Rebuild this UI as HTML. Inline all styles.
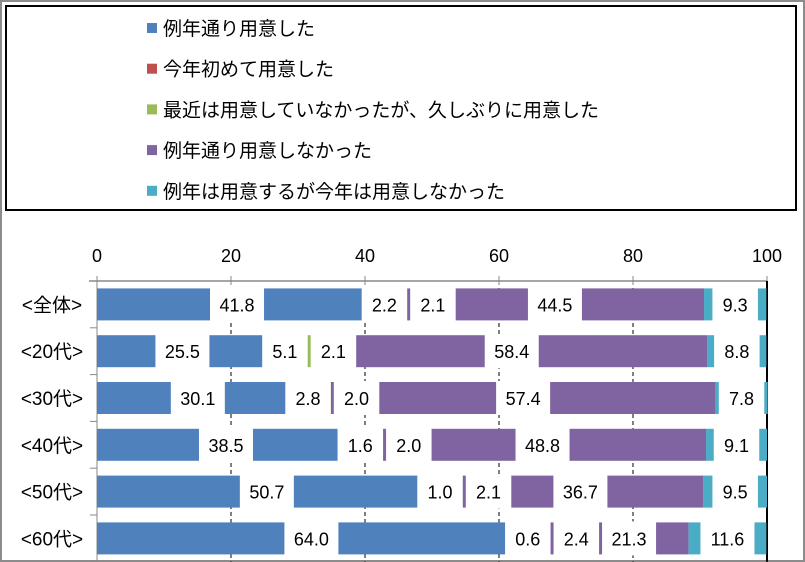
<!DOCTYPE html>
<html><head><meta charset="utf-8"><style>
html,body{margin:0;padding:0;background:#fff;}
svg{display:block;font-family:"Liberation Sans","Noto Sans CJK JP",sans-serif;}
</style></head><body>
<svg id="chart" width="805" height="562" viewBox="0 0 805 562">
<rect x="1" y="1" width="803" height="560" fill="#fff" stroke="#8c8c8c" stroke-width="2"/>
<g id="legend">
<rect x="6" y="6" width="790" height="204" fill="#fff" stroke="#000" stroke-width="2"/>
</g>
<g id="plot"></g>
</svg>
<script>
const categories = ["<全体>", "<20代>", "<30代>", "<40代>", "<50代>", "<60代>"];
const seriesNames = ["例年通り用意した", "今年初めて用意した", "最近は用意していなかったが、久しぶりに用意した", "例年通り用意しなかった", "例年は用意するが今年は用意しなかった"];
const s1 = [41.8, 25.5, 30.1, 38.5, 50.7, 64.0];
const s2 = [2.2, 5.1, 2.8, 1.6, 1.0, 0.6];
const s3 = [2.1, 2.1, 2.0, 2.0, 2.1, 2.4];
const s4 = [44.5, 58.4, 57.4, 48.8, 36.7, 21.3];
const s5 = [9.3, 8.8, 7.8, 9.1, 9.5, 11.6];
const ticks = [0, 20, 40, 60, 80, 100];

const colors = ["#4f81bd", "#c0504d", "#9bbb59", "#8064a2", "#4bacc6"];
const series = [s1, s2, s3, s4, s5];
const NS = "http://www.w3.org/2000/svg";
const x0 = 97, x1 = 767;
const xs = v => x0 + (x1 - x0) * v / 100;
const rowTop = 281, rowH = 46.8, barH = 32;
const yc = i => rowTop + rowH * (i + 0.5);
function mk(tag, attrs, parent) {
  const e = document.createElementNS(NS, tag);
  for (const k in attrs) e.setAttribute(k, attrs[k]);
  parent.appendChild(e);
  return e;
}
const legend = document.getElementById('legend');
seriesNames.forEach((n, i) => {
  const y = 28 + i * 40.7;
  const r = mk('rect', {x: 147, y: y - 5, width: 10, height: 10, fill: colors[i]}, legend);
  
  
  const t = mk('text', {x: 163, y: y + 7, 'font-size': 19, fill: '#000'}, legend);
  t.textContent = n;
  
  
});
const plot = document.getElementById('plot');
// gridlines
ticks.forEach(v => {
  if (v > 0 && v < 100) {
    const g = mk('line', {x1: xs(v), x2: xs(v), y1: rowTop, y2: rowTop + rowH * categories.length, stroke: '#000', 'stroke-width': 1, 'stroke-dasharray': '4,3'}, plot);
    
    
  }
  const tk = mk('line', {x1: xs(v), x2: xs(v), y1: rowTop - 5, y2: rowTop + 4, stroke: '#888', 'stroke-width': 1}, plot);
  
  
  const t = mk('text', {x: xs(v), y: 262, 'font-size': 18, 'text-anchor': 'middle', fill: '#000'}, plot);
  t.textContent = v;
  
  
});
const ax = mk('line', {x1: x0 - 8, x2: x1, y1: rowTop, y2: rowTop, stroke: '#888', 'stroke-width': 1.5}, plot);


const ay = mk('line', {x1: x0, x2: x0, y1: rowTop, y2: rowTop + rowH * categories.length, stroke: '#888', 'stroke-width': 1}, plot);


for (let i = 0; i <= categories.length; i++) {
  const l = mk('line', {x1: x0 - 7, x2: x0, y1: rowTop + rowH * i, y2: rowTop + rowH * i, stroke: '#888', 'stroke-width': 1}, plot);
  
  
}
const right = mk('line', {x1: x1, x2: x1, y1: rowTop, y2: rowTop + rowH * categories.length, stroke: '#000', 'stroke-width': 2}, plot);



categories.forEach((c, i) => {
  const cy = yc(i);
  const lt = mk('text', {x: 52, y: cy + 7, 'font-size': 19, 'text-anchor': 'middle', fill: '#000'}, plot);
  lt.textContent = c;
  
  
  let acc = 0;
  const segs = [];
  series.forEach((s, k) => {
    const v = s[i];
    const r = mk('rect', {x: xs(acc), y: cy - barH / 2, width: xs(acc + v) - xs(acc), height: barH, fill: colors[k]}, plot);
    
    
    segs.push({c: xs(acc + v / 2), v: v});
    acc += v;
  });
  let prevRight = -1e9;
  segs.forEach((sg, k) => {
    const txt = sg.v.toFixed(1);
    const w = txt.length * 8.5 + 20;
    let left = sg.c - w / 2;
    if (left < prevRight + 3) left = prevRight + 3;
    prevRight = left + w;
    const bg = mk('rect', {x: left, y: cy - barH / 2 - 1, width: w, height: barH + 2, fill: '#fff'}, plot);
    
    
    const t = mk('text', {x: left + w / 2, y: cy + 7, 'font-size': 18, 'text-anchor': 'middle', fill: '#000'}, plot);
    t.textContent = txt;
    
    
  });
});
</script>
</body></html>
